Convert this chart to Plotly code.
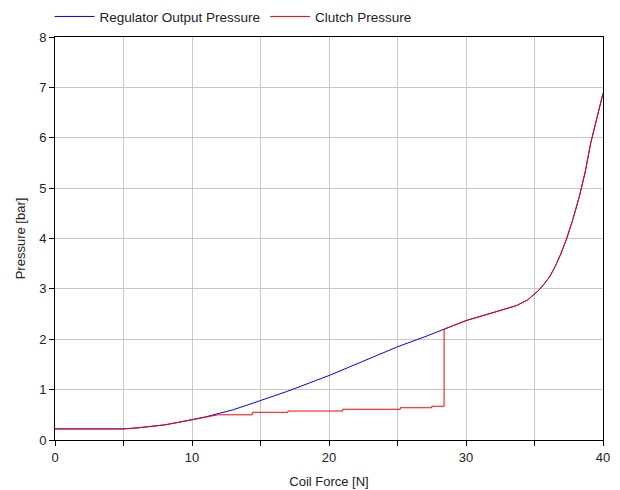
import plotly.graph_objects as go

# Regulator output pressure (blue)
reg_force = [0, 5, 6, 7, 8, 9, 10, 11, 12, 13, 14, 15, 17, 20, 22.5, 25, 27, 28.4,
             30, 32, 33.7, 34.5, 34.9, 35.3, 35.65, 36.1, 36.5, 36.9, 37.35, 37.8, 38.27,
             38.7, 39.1, 39.5, 40]
reg_pressure = [0.22, 0.22, 0.24, 0.27, 0.30, 0.35, 0.40, 0.46, 0.53, 0.60, 0.69, 0.78,
                0.97, 1.28, 1.56, 1.85, 2.05, 2.20, 2.37, 2.53, 2.67, 2.78, 2.88, 2.97,
                3.08, 3.24, 3.44, 3.68, 4.00, 4.38, 4.83, 5.32, 5.89, 6.35, 6.88]

# Clutch pressure (red)
clutch_force = [0, 5, 6, 7, 8, 9, 10, 11, 11.9, 14.4, 14.4, 17, 17, 21, 21, 25.2, 25.2,
                27.5, 27.5, 28.4, 28.4, 30, 32, 33.7, 34.5, 34.9, 35.3, 35.65, 36.1, 36.5,
                36.9, 37.35, 37.8, 38.27, 38.7, 39.1, 39.5, 40]
clutch_pressure = [0.22, 0.22, 0.24, 0.27, 0.30, 0.35, 0.40, 0.46, 0.50, 0.50, 0.55, 0.55,
                   0.575, 0.575, 0.61, 0.61, 0.64, 0.64, 0.67, 0.67, 2.20, 2.37, 2.53,
                   2.67, 2.78, 2.88, 2.97, 3.08, 3.24, 3.44, 3.68, 4.00, 4.38, 4.83, 5.32,
                   5.89, 6.35, 6.88]

x_ticks = [0, 10, 20, 30, 40]
y_ticks = [0, 1, 2, 3, 4, 5, 6, 7, 8]

fig = go.Figure()
fig.add_trace(go.Scatter(x=reg_force, y=reg_pressure, mode="lines",
                         name="Regulator Output Pressure",
                         line=dict(color="#0000ff", width=1)))
fig.add_trace(go.Scatter(x=clutch_force, y=clutch_pressure, mode="lines",
                         name="Clutch Pressure",
                         line=dict(color="#ff0000", width=1)))

axis_common = dict(showline=True, linecolor="#000000", linewidth=1, mirror=True,
                   gridcolor="#c8c8c8", gridwidth=1, ticks="outside", ticklen=5,
                   tickcolor="#000000", zeroline=False,
                   tickfont=dict(size=13, color="#222222"))

fig.update_layout(
    width=620, height=490,
    margin=dict(l=55, r=17, t=37, b=50, autoexpand=False),
    paper_bgcolor="white", plot_bgcolor="white",
    font=dict(family="Liberation Sans, Arial, sans-serif", size=13, color="#222222"),
    showlegend=True,
    legend=dict(orientation="h", x=-0.01, xanchor="left", y=1.012, yanchor="bottom",
                font=dict(size=13.5), itemwidth=40, tracegroupgap=0,
                bgcolor="rgba(0,0,0,0)"),
    xaxis=dict(range=[0, 40], tickvals=x_ticks,
               minor=dict(dtick=5, showgrid=True, gridcolor="#c8c8c8",
                          ticks="outside", ticklen=5, tickcolor="#000000"),
               title=dict(text="Coil Force [N]", standoff=13, font=dict(size=13)),
               **axis_common),
    yaxis=dict(range=[0, 8], tickvals=y_ticks,
               title=dict(text="Pressure [bar]", standoff=10, font=dict(size=13)),
               **axis_common),
)

fig.write_html("out.html")
